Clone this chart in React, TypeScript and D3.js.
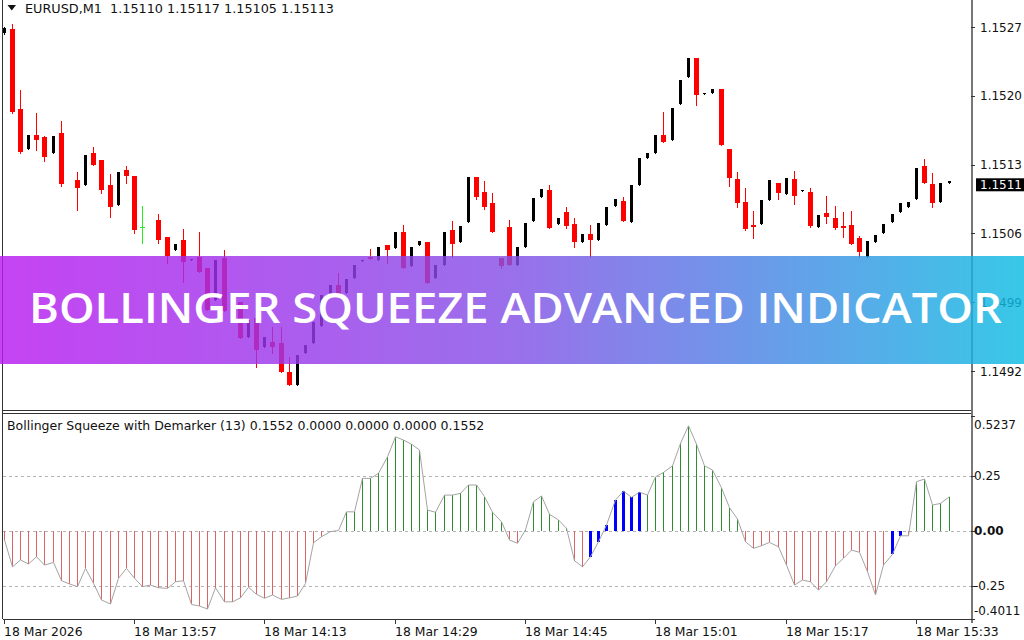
import React from 'react';
import * as d3 from 'd3';

// ---- Data (EURUSD M1) ----
const openP = [1.15264,1.15268,1.15187,1.15146,1.15160,1.15158,1.15142,1.15162,1.15110,1.15114,1.15109,1.15142,1.15135,1.15109,1.15089,1.15125,1.15118,1.15067,1.15066,1.15074,1.15056,1.15043,1.15053,1.15033,1.15036,1.15025,1.14992,1.15035,1.14989,1.14990,1.14955,1.14974,1.14944,1.14950,1.14949,1.14919,1.14906,1.14938,1.14949,1.14966,1.14997,1.15008,1.14999,1.15015,1.15032,1.15036,1.15033,1.15048,1.15045,1.15061,1.15027,1.15048,1.15051,1.15015,1.15028,1.15063,1.15051,1.15072,1.15117,1.15102,1.15091,1.15035,1.15067,1.15028,1.15046,1.15073,1.15097,1.15104,1.15070,1.15082,1.15070,1.15051,1.15059,1.15053,1.15069,1.15088,1.15093,1.15072,1.15109,1.15137,1.15142,1.15160,1.15155,1.15192,1.15219,1.15238,1.15202,1.15203,1.15207,1.15146,1.15115,1.15092,1.15069,1.15070,1.15094,1.15111,1.15100,1.15115,1.15103,1.15102,1.15067,1.15081,1.15076,1.15068,1.15069,1.15055,1.15036,1.15051,1.15060,1.15072,1.15082,1.15087,1.15095,1.15129,1.15110,1.15092,1.15111];
const highP = [1.15270,1.15273,1.15206,1.15160,1.15183,1.15159,1.15159,1.15174,1.15110,1.15123,1.15140,1.15148,1.15135,1.15120,1.15123,1.15129,1.15118,1.15088,1.15066,1.15080,1.15056,1.15049,1.15065,1.15034,1.15061,1.15025,1.15033,1.15043,1.14990,1.14990,1.14972,1.14974,1.14955,1.14965,1.14965,1.14934,1.14936,1.14946,1.14970,1.14997,1.15008,1.15020,1.15014,1.15028,1.15033,1.15044,1.15046,1.15048,1.15061,1.15069,1.15046,1.15052,1.15051,1.15028,1.15061,1.15073,1.15068,1.15117,1.15117,1.15113,1.15101,1.15035,1.15074,1.15046,1.15071,1.15096,1.15105,1.15109,1.15076,1.15087,1.15076,1.15059,1.15069,1.15071,1.15087,1.15095,1.15097,1.15109,1.15137,1.15142,1.15160,1.15184,1.15188,1.15216,1.15238,1.15238,1.15203,1.15207,1.15207,1.15146,1.15123,1.15106,1.15083,1.15094,1.15114,1.15111,1.15116,1.15124,1.15104,1.15106,1.15079,1.15098,1.15088,1.15082,1.15083,1.15057,1.15052,1.15058,1.15070,1.15080,1.15091,1.15092,1.15127,1.15136,1.15121,1.15111,1.15113];
const lowP = [1.15263,1.15183,1.15142,1.15146,1.15145,1.15134,1.15142,1.15108,1.15110,1.15084,1.15109,1.15130,1.15101,1.15077,1.15089,1.15111,1.15060,1.15049,1.15066,1.15050,1.15030,1.15043,1.15011,1.15033,1.15021,1.14982,1.14992,1.14981,1.14989,1.14954,1.14955,1.14924,1.14944,1.14938,1.14919,1.14906,1.14906,1.14938,1.14949,1.14966,1.14997,1.14997,1.14999,1.15015,1.15032,1.15034,1.15033,1.15030,1.15045,1.15025,1.15027,1.15048,1.15010,1.15015,1.15028,1.15036,1.15051,1.15072,1.15095,1.15085,1.15061,1.15025,1.15028,1.15028,1.15046,1.15073,1.15097,1.15066,1.15070,1.15066,1.15046,1.15051,1.15036,1.15053,1.15069,1.15088,1.15073,1.15072,1.15109,1.15137,1.15142,1.15153,1.15155,1.15192,1.15219,1.15191,1.15202,1.15203,1.15150,1.15108,1.15087,1.15063,1.15055,1.15070,1.15094,1.15095,1.15100,1.15090,1.15103,1.15067,1.15067,1.15071,1.15065,1.15056,1.15049,1.15036,1.15036,1.15051,1.15060,1.15072,1.15082,1.15087,1.15095,1.15111,1.15087,1.15092,1.15111];
const closeP = [1.15269,1.15184,1.15143,1.15160,1.15155,1.15138,1.15159,1.15110,1.15110,1.15106,1.15140,1.15130,1.15104,1.15087,1.15123,1.15118,1.15063,1.15067,1.15066,1.15053,1.15037,1.15049,1.15031,1.15034,1.15021,1.14982,1.15033,1.14981,1.14990,1.14954,1.14972,1.14941,1.14955,1.14944,1.14919,1.14906,1.14936,1.14946,1.14970,1.14997,1.15008,1.14997,1.15014,1.15028,1.15033,1.15034,1.15046,1.15043,1.15061,1.15025,1.15046,1.15052,1.15010,1.15028,1.15061,1.15049,1.15068,1.15117,1.15097,1.15087,1.15061,1.15027,1.15028,1.15046,1.15071,1.15096,1.15105,1.15066,1.15076,1.15068,1.15051,1.15059,1.15053,1.15071,1.15087,1.15095,1.15073,1.15109,1.15137,1.15142,1.15160,1.15153,1.15188,1.15216,1.15238,1.15201,1.15203,1.15207,1.15150,1.15116,1.15091,1.15065,1.15067,1.15094,1.15114,1.15101,1.15116,1.15098,1.15104,1.15068,1.15079,1.15077,1.15066,1.15066,1.15049,1.15041,1.15052,1.15058,1.15070,1.15080,1.15091,1.15092,1.15127,1.15111,1.15091,1.15111,1.15113];

const squeezeValues = [-0.042,-0.164,-0.133,-0.151,-0.118,-0.156,-0.144,-0.227,-0.242,-0.254,-0.171,-0.239,-0.315,-0.333,-0.216,-0.171,-0.216,-0.254,-0.247,-0.259,-0.262,-0.232,-0.227,-0.335,-0.342,-0.356,-0.259,-0.323,-0.323,-0.305,-0.257,-0.289,-0.307,-0.292,-0.312,-0.305,-0.297,-0.239,-0.055,-0.027,-0.004,0.001,0.086,0.086,0.238,0.238,0.261,0.336,0.427,0.412,0.393,0.367,0.094,0.084,0.162,0.162,0.170,0.208,0.208,0.155,0.084,0.041,-0.042,-0.057,0.004,0.132,0.158,0.075,0.049,0.011,-0.136,-0.164,-0.118,-0.050,0.026,0.140,0.180,0.152,0.175,0.162,0.245,0.265,0.295,0.397,0.477,0.393,0.295,0.276,0.195,0.105,0.053,-0.050,-0.080,-0.068,-0.053,-0.073,-0.156,-0.247,-0.224,-0.232,-0.270,-0.232,-0.159,-0.125,-0.088,-0.098,-0.186,-0.292,-0.156,-0.107,-0.023,-0.023,0.223,0.235,0.117,0.124,0.155];
const squeezeBars = [72,73,74,75,76,77,78,109,110];

const priceTicks = [1.1527, 1.1520, 1.1513, 1.1506, 1.1499, 1.1492];
const currentPrice = 1.1511;
const indTicks = [0.5237, 0.25, 0, -0.25, -0.4011];
const indLevels = [0.25, 0, -0.25];
const timeLabels = ['18 Mar 2026','18 Mar 13:57','18 Mar 14:13','18 Mar 14:29','18 Mar 14:45','18 Mar 15:01','18 Mar 15:17','18 Mar 15:33'];
const timeLabelBars = [0,16,32,48,64,80,96,112];

const headerText = 'EURUSD,M1  1.15110 1.15117 1.15105 1.15113';
const indTitle = 'Bollinger Squeeze with Demarker (13) 0.1552 0.0000 0.0000 0.0000 0.1552';
const bannerText = 'BOLLINGER SQUEEZE ADVANCED INDICATOR';

const FONT = '"DejaVu Sans", Verdana, sans-serif';

export default function App() {
  const W = 1024, H = 640;
  const axisX = 971;
  const n = closeP.length;
  const x = d3.scaleLinear().domain([0, n - 1]).range([3.67, 3.67 + 8.146 * (n - 1)]);
  const y = d3.scaleLinear().domain([1.148824, 1.152975]).range([408, 0]);
  const yi = d3.scaleLinear().domain([-0.4011, 0.5237]).range([619, 415.5]);
  const px = (k: number) => Math.round(x(k)) + 0.5;

  const linePath = d3.line<number>().x((_, i) => px(i)).y((v) => yi(v))(squeezeValues) || '';

  const candles = closeP.map((c, k) => {
    const o = openP[k], h = highP[k], l = lowP[k];
    const cx = px(k);
    if (c === o) {
      if (h === l) return null;
      const yc = Math.round(y(c)) + 0.5;
      return (
        <g key={k} stroke="#22ee22" strokeWidth={1}>
          <line x1={cx} x2={cx} y1={y(h)} y2={y(l)} />
          <line x1={cx - 2.5} x2={cx + 2.5} y1={yc} y2={yc} />
        </g>
      );
    }
    const bull = c > o;
    const col = bull ? '#000000' : '#ff0000';
    const bw = bull ? 3 : 5;
    const top = Math.round(y(Math.max(o, c)));
    const bot = Math.round(y(Math.min(o, c)));
    return (
      <g key={k}>
        <line x1={cx} x2={cx} y1={Math.round(y(h))} y2={Math.round(y(l)) + 1} stroke={col} strokeWidth={1} />
        <rect x={cx - bw / 2} y={top} width={bw} height={Math.max(1, bot - top)} fill={col} />
      </g>
    );
  });

  const bars = squeezeValues.map((v, k) => {
    const blue = squeezeBars.includes(k);
    const col = blue ? '#0000ff' : v >= 0 ? '#2f8f2f' : '#dc6464';
    return (
      <line key={k} x1={px(k)} x2={px(k)} y1={yi(0)} y2={yi(v)} stroke={col} strokeWidth={blue ? 3 : 1} />
    );
  });

  return (
    <svg width={W} height={H} style={{ position: 'absolute', left: 0, top: 0, background: '#fff' }} fontFamily={FONT}>
      <defs>
        <linearGradient id="bannerGrad" x1="0" x2="1" y1="0" y2="0">
          <stop offset="0" stopColor="#b81af0" />
          <stop offset="0.5" stopColor="#8450e6" />
          <stop offset="1" stopColor="#0cbce2" />
        </linearGradient>
      </defs>
      <rect x={0} y={0} width={W} height={H} fill="#ffffff" />

      {/* indicator levels */}
      {indLevels.map((lv) => (
        <line key={lv} x1={3} x2={axisX} y1={Math.round(yi(lv)) + 0.5} y2={Math.round(yi(lv)) + 0.5} stroke="#b4b4b4" strokeDasharray="3,3" />
      ))}
      <g shapeRendering="crispEdges">{bars}</g>
      <path d={linePath} fill="none" stroke="#a4a4a4" strokeWidth={1} />

      {/* candles */}
      <g shapeRendering="crispEdges">{candles}</g>

      {/* frames */}
      <g stroke="#333" strokeWidth={1} shapeRendering="crispEdges">
        <line x1={2.5} x2={2.5} y1={0} y2={619} />
        <line x1={axisX + 0.5} x2={axisX + 0.5} y1={0} y2={623} stroke="#777" strokeWidth={2} />
        <line x1={2.5} x2={axisX} y1={410.5} y2={410.5} />
        <line x1={2.5} x2={axisX} y1={413.5} y2={413.5} />
        <line x1={2.5} x2={axisX} y1={619.5} y2={619.5} />
      </g>

      {/* price axis */}
      {priceTicks.map((p) => (
        <g key={p}>
          <line x1={axisX} x2={axisX + 4} y1={Math.round(y(p)) + 0.5} y2={Math.round(y(p)) + 0.5} stroke="#333" />
          <text x={980} y={y(p) + 4.5} fontSize={12} fill="#111">{p.toFixed(4)}</text>
        </g>
      ))}
      <rect x={976} y={y(currentPrice) - 6} width={48} height={13} fill="#000" />
      <text x={980} y={y(currentPrice) + 4.5} fontSize={12} fill="#fff">{currentPrice.toFixed(4)}</text>

      {/* indicator axis */}
      {indTicks.map((v, i) => {
        const ty = i === 0 ? yi(v) + 9 : i === indTicks.length - 1 ? yi(v) - 9 : yi(v);
        return (
          <g key={v}>
            <line x1={axisX} x2={axisX + 4} y1={Math.round(yi(v)) + 0.5} y2={Math.round(yi(v)) + 0.5} stroke="#333" />
            <text x={974} y={ty + 4.5} fontSize={12} fill="#111" fontWeight={v === 0 ? 'bold' : 'normal'}>
              {Math.abs(v) === 0.25 || v === 0 ? v.toFixed(2) : v.toFixed(4)}
            </text>
          </g>
        );
      })}

      {/* time axis */}
      {timeLabels.map((t, i) => {
        const tx = Math.round(x(timeLabelBars[i])) + 0.5;
        return (
          <g key={t}>
            <line x1={tx} x2={tx} y1={619} y2={624} stroke="#333" />
            <text x={Math.max(4, tx - 0.5)} y={636} fontSize={12.4} fill="#111">{t}</text>
          </g>
        );
      })}

      {/* headers */}
      <path d="M7.5,5 L16,5 L11.75,10.5 Z" fill="#111" />
      <text x={25} y={13} fontSize={12.8} fill="#111" xmlSpace="preserve" style={{ whiteSpace: 'pre' }}>{headerText}</text>
      <text x={7} y={430} fontSize={12.5} fill="#111">{indTitle}</text>

      {/* banner */}
      <g opacity={0.82}>
        <rect x={0} y={256} width={W} height={108} fill="url(#bannerGrad)" />
      </g>
      <text x={29} y={323} fontSize={41} fontFamily='"Open Sans", sans-serif' fontWeight={600} fill="#ffffff" textLength={973} lengthAdjust="spacingAndGlyphs">{bannerText}</text>
    </svg>
  );
}
